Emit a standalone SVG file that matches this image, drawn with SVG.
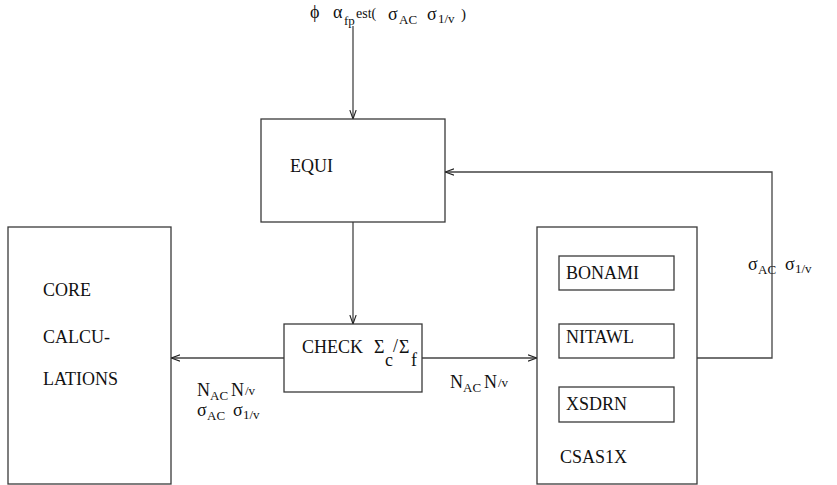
<svg xmlns="http://www.w3.org/2000/svg" width="837" height="485" viewBox="0 0 837 485">
<style>
.box{fill:#fff;stroke:#3a3a3a;stroke-width:1.3}
.ln{fill:none;stroke:#444;stroke-width:1.3}
text{font-family:"Liberation Serif","Times New Roman",serif;fill:#111}
.t{font-size:18px}
.m{font-size:18px}
.s{font-size:13px}
</style>
<defs>
<marker id="ah" viewBox="0 0 10 10" refX="10" refY="5" markerWidth="9" markerHeight="9" markerUnits="userSpaceOnUse" orient="auto">
<path d="M0,1.5 L10,5 L0,8.5" fill="none" stroke="#222" stroke-width="1.2"/>
</marker>
</defs>
<rect width="837" height="485" fill="#fff"/>
<g id="connectors">
<line class="ln" x1="353" y1="26" x2="353" y2="119" marker-end="url(#ah)"/>
<line class="ln" x1="353" y1="222" x2="353" y2="324" marker-end="url(#ah)"/>
<line class="ln" x1="284" y1="358" x2="171" y2="358" marker-end="url(#ah)"/>
<line class="ln" x1="422" y1="358" x2="537" y2="358" marker-end="url(#ah)"/>
<polyline class="ln" points="697,358 772,358 772,172 445,172" marker-end="url(#ah)"/>
</g>
<g id="input-label">
<text class="m" x="310" y="18">ϕ</text>
<text class="m" x="333" y="18">α</text>
<text class="s" x="344" y="25">fp</text>
<text style="font-size:14px" x="356" y="18">est(</text>
<text class="m" x="388" y="20">σ</text>
<text class="s" x="399" y="24">AC</text>
<text class="m" x="427" y="20">σ</text>
<text class="s" x="438" y="23">1/v</text>
<text style="font-size:15px" x="461" y="19">)</text>
</g>
<g id="equi">
<rect class="box" x="261" y="119" width="184" height="103"/>
<text class="t" x="290" y="172">EQUI</text>
</g>
<g id="core">
<rect class="box" x="8" y="227" width="163" height="257"/>
<text class="t" x="43" y="296">CORE</text>
<text class="t" x="43" y="343">CALCU-</text>
<text class="t" x="43" y="385">LATIONS</text>
</g>
<g id="check">
<rect class="box" x="284" y="324" width="138" height="68"/>
<text class="t" x="302" y="353">CHECK</text>
<text class="m" x="374" y="353">Σ</text>
<text class="t" x="385" y="366">c</text>
<text class="m" x="393" y="352">/</text>
<text class="m" x="399" y="353">Σ</text>
<text class="t" x="411" y="366">f</text>
</g>
<g id="csas1x">
<rect class="box" x="537" y="227" width="160" height="257"/>
<text class="t" x="560" y="463">CSAS1X</text>
</g>
<g id="bonami">
<rect class="box" x="559" y="256" width="115" height="34"/>
<text class="t" x="566" y="279">BONAMI</text>
</g>
<g id="nitawl">
<rect class="box" x="559" y="324" width="115" height="34"/>
<text class="t" x="566" y="343">NITAWL</text>
</g>
<g id="xsdrn">
<rect class="box" x="559" y="387" width="115" height="35"/>
<text class="t" x="566" y="410">XSDRN</text>
</g>
<g id="feedback-label">
<text class="m" x="748" y="270">σ</text>
<text class="s" x="758" y="274">AC</text>
<text class="m" x="785" y="270">σ</text>
<text class="s" x="795" y="273">1/v</text>
</g>
<g id="csas-input-label">
<text class="t" x="450" y="388">N</text>
<text class="s" x="463" y="392">AC</text>
<text class="t" x="484" y="388">N</text>
<text class="s" x="498" y="387">/v</text>
</g>
<g id="core-input-label">
<text class="t" x="197" y="396">N</text>
<text class="s" x="210" y="400">AC</text>
<text class="t" x="231" y="396">N</text>
<text class="s" x="245" y="395">/v</text>
<text class="m" x="197" y="416">σ</text>
<text class="s" x="207" y="420">AC</text>
<text class="m" x="233" y="416">σ</text>
<text class="s" x="243" y="419">1/v</text>
</g>
</svg>
